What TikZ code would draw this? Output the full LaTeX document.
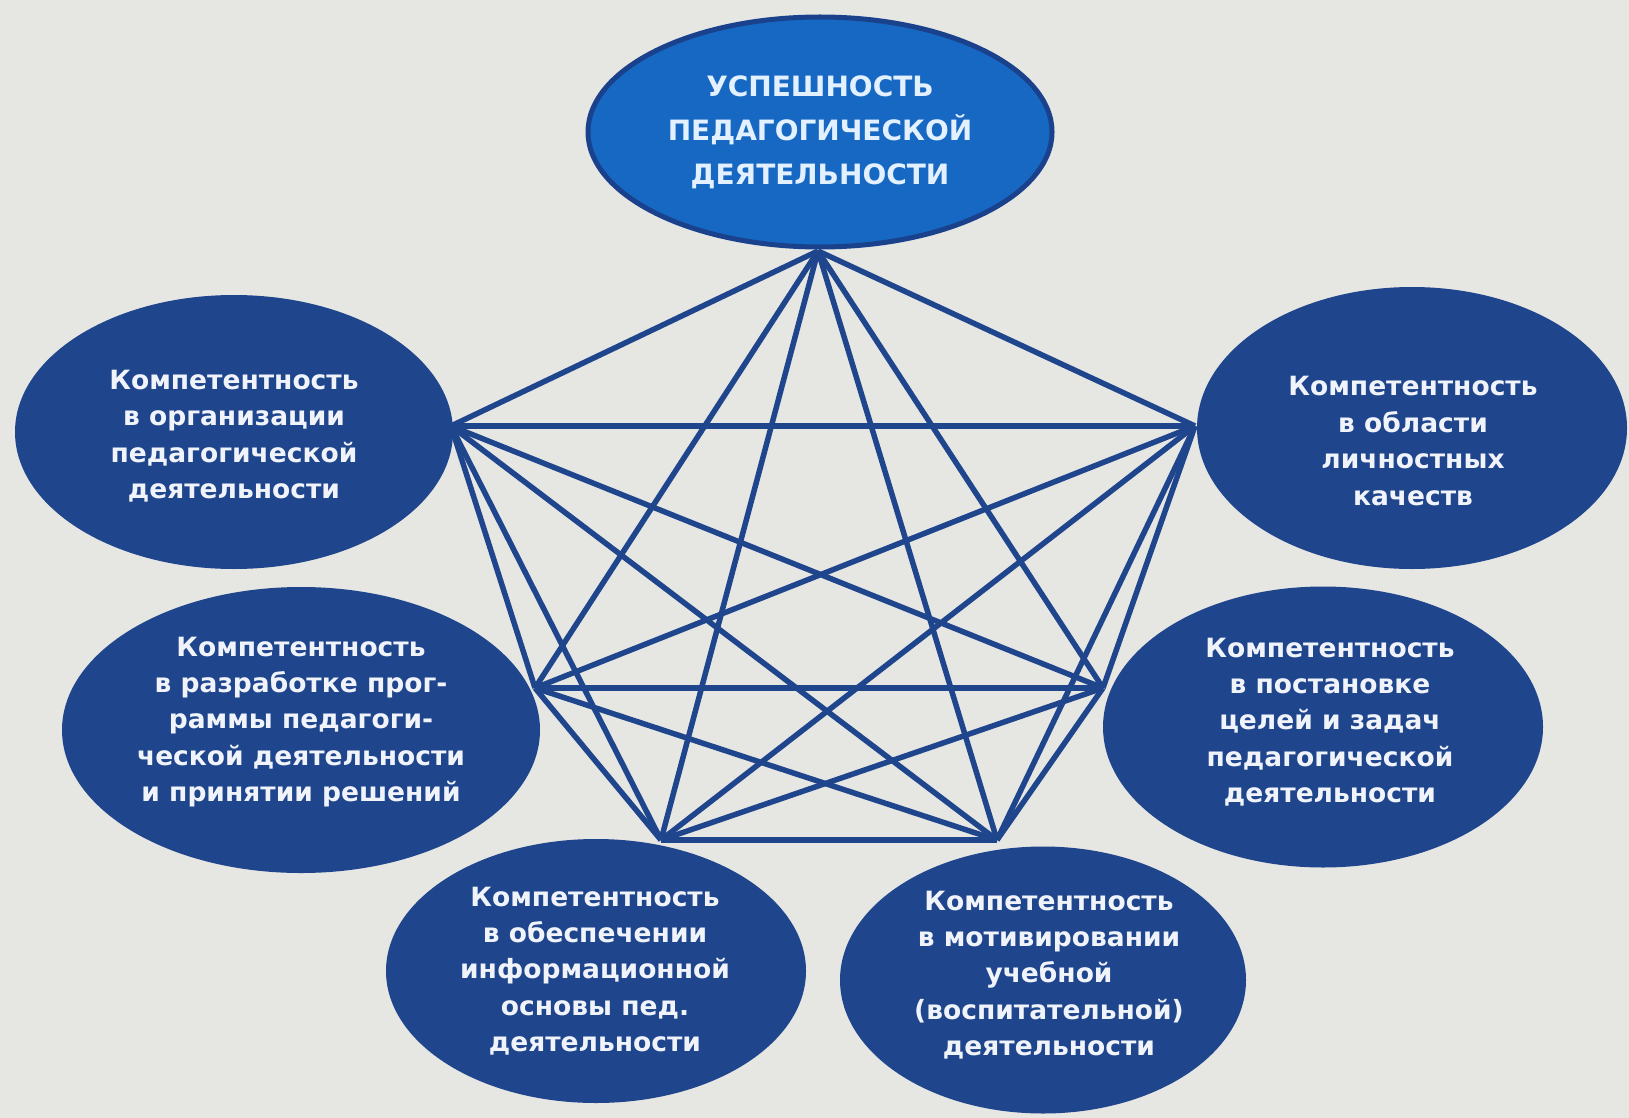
\documentclass[tikz,border=0pt]{standalone}
\usepackage{fontspec}
\setmainfont{DejaVu Sans}
\usetikzlibrary{shapes.geometric}
\definecolor{bgc}{RGB}{230,230,227}
\definecolor{navy}{RGB}{31,69,141}
\definecolor{topblue}{RGB}{22,104,194}
\definecolor{topedge}{RGB}{26,66,140}
\definecolor{toptext}{RGB}{226,240,255}
\definecolor{lighttext}{RGB}{240,244,250}
\tikzset{
  oval/.style={ellipse, fill=navy, inner sep=0pt, text=lighttext,
    font=\bfseries\fontsize{26.5}{36.4}\selectfont, align=center},
  topoval/.style={ellipse, fill=topblue, draw=topedge, line width=5pt, inner sep=0pt,
    text=toptext, font=\bfseries\fontsize{28}{44}\selectfont, align=center},
  link/.style={draw=navy, line width=5.5pt},
}
\begin{document}
\begin{tikzpicture}[x=1pt,y=-1pt]
\fill[bgc] (0,0) rectangle (1629,1118);
\useasboundingbox (0,0) rectangle (1629,1118);
% connection points
\coordinate (cTop) at (818,251);
\coordinate (cLT) at (451,426);
\coordinate (cRT) at (1195,426);
\coordinate (cLM) at (535,688);
\coordinate (cRM) at (1103,688);
\coordinate (cBL) at (661,840);
\coordinate (cBR) at (997,840);
% links (complete graph)
\foreach \a/\b in {cTop/cLT,cTop/cRT,cTop/cLM,cTop/cRM,cTop/cBL,cTop/cBR,
  cLT/cRT,cLT/cLM,cLT/cRM,cLT/cBL,cLT/cBR,
  cRT/cLM,cRT/cRM,cRT/cBL,cRT/cBR,
  cLM/cRM,cLM/cBL,cLM/cBR,
  cRM/cBL,cRM/cBR,
  cBL/cBR}
  \draw[link] (\a) -- (\b);
% ovals
\node[topoval, minimum width=464pt, minimum height=230pt] (top) at (820,132)
  {УСПЕШНОСТЬ\\ПЕДАГОГИЧЕСКОЙ\\ДЕЯТЕЛЬНОСТИ};
\node[oval, minimum width=438pt, minimum height=274pt] (lt) at (234,432) {};
\node[oval, minimum width=430pt, minimum height=282pt] (rt) at (1412,428) {};
\node[oval, minimum width=478pt, minimum height=286pt] (lm) at (301,730) {};
\node[oval, minimum width=440pt, minimum height=281pt] (rm) at (1323,727) {};
\node[oval, minimum width=420pt, minimum height=264pt] (bl) at (596,971) {};
\node[oval, minimum width=406pt, minimum height=267pt] (br) at (1043,980) {};
% texts
\node[oval, fill=none] (tlt) at (234,436)
  {Компетентность\\в организации\\педагогической\\деятельности};
\node[oval, fill=none] (trt) at (1413,441)
  {Компетентность\\в области\\личностных\\качеств};
\node[oval, fill=none] (tlm) at (301,722)
  {Компетентность\\в разработке прог-\\раммы педагоги-\\ческой деятельности\\и принятии решений};
\node[oval, fill=none] (trm) at (1330,722)
  {Компетентность\\в постановке\\целей и задач\\педагогической\\деятельности};
\node[oval, fill=none] (tbl) at (595,971)
  {Компетентность\\в обеспечении\\информационной\\основы пед.\\деятельности};
\node[oval, fill=none] (tbr) at (1049,975)
  {Компетентность\\в мотивировании\\учебной\\(воспитательной)\\деятельности};
\end{tikzpicture}
\end{document}
